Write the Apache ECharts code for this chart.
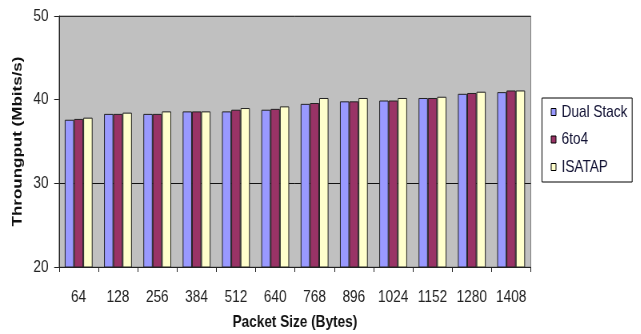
<!DOCTYPE html>
<html>
<head>
<meta charset="utf-8">
<style>
  html, body { margin: 0; padding: 0; background: #fff; overflow: hidden; }
  #frame { width: 641px; height: 334px; overflow: hidden; }
  /* the chart is laid out 25% wider and squeezed back to 641px, giving the condensed lettering */
  #chart { width: 801.25px; height: 334px; transform: scaleX(0.8); transform-origin: 0 0; }
</style>
<script src="https://cdn.jsdelivr.net/npm/echarts@6/dist/echarts.min.js"></script>
</head>
<body>
<div id="frame"><div id="chart"></div></div>
<script>
// Packet sizes (bytes)
const packetSizes = ['64', '128', '256', '384', '512', '640', '768', '896', '1024', '1152', '1280', '1408'];

// Throughput (Mbits/s) per transition mechanism
const dualStack = [37.6, 38.3, 38.3, 38.6, 38.6, 38.8, 39.5, 39.8, 39.9, 40.2, 40.7, 40.9];
const sixToFour = [37.7, 38.3, 38.3, 38.6, 38.8, 38.9, 39.6, 39.8, 39.9, 40.2, 40.8, 41.1];
const isatap    = [37.85, 38.45, 38.6, 38.6, 39.0, 39.2, 40.2, 40.2, 40.2, 40.35, 40.95, 41.1];

const seriesNames = ['Dual Stack', '6to4', 'ISATAP'];
const seriesColors = ['#9999FF', '#993366', '#FFFFCC'];
const seriesData = [dualStack, sixToFour, isatap];

const chart = echarts.init(document.getElementById('chart'), null, { renderer: 'canvas' });

const font = "'Liberation Sans', Arial, sans-serif";

chart.setOption({
  animation: false,
  backgroundColor: '#ffffff',
  textStyle: { fontFamily: font },
  grid: {
    left: 73.75, right: 137.5, top: 16, bottom: 67,
    containLabel: false,
    outerBoundsMode: 'none',
    show: true,
    backgroundColor: '#C0C0C0',
    borderColor: '#808080',
    borderWidth: 1
  },
  legend: {
    orient: 'vertical',
    left: 677.5, top: 98,
    padding: [5.5, 6, 6.5, 11],
    itemGap: 10.5,
    itemWidth: 6, itemHeight: 7,
    borderColor: '#000', borderWidth: 1,
    backgroundColor: '#fff',
    icon: 'rect',
    textStyle: { fontSize: 17, lineHeight: 17, color: '#111133', fontFamily: font, padding: [0, 0, 0, 2] },
    itemStyle: { borderColor: '#000', borderWidth: 1 },
    data: seriesNames
  },
  xAxis: {
    type: 'category',
    data: packetSizes,
    name: 'Packet Size (Bytes)',
    nameLocation: 'middle',
    nameGap: 47,
    nameTextStyle: { fontSize: 17, fontWeight: 'bold', color: '#111', fontFamily: font },
    axisLine: { show: true, lineStyle: { color: '#222', width: 1 } },
    axisTick: { show: true, alignWithLabel: false, length: 5, lineStyle: { color: '#222' } },
    axisLabel: { fontSize: 17, color: '#222', margin: 22, interval: 0, fontFamily: font },
    splitLine: { show: false }
  },
  yAxis: {
    type: 'value',
    min: 20, max: 50, interval: 10,
    name: 'Throungput (Mbits/s)',
    nameLocation: 'middle',
    nameGap: 29,
    nameTextStyle: { fontSize: 17, fontWeight: 'bold', color: '#111', fontFamily: font },
    axisLine: { show: true, lineStyle: { color: '#222', width: 1 } },
    axisTick: { show: true, inside: false, length: 6, lineStyle: { color: '#222' } },
    axisLabel: { fontSize: 17, color: '#222', margin: 13, fontFamily: font },
    splitLine: {
      show: true,
      lineStyle: { color: ['rgba(0,0,0,0)', '#111', 'rgba(0,0,0,0)', '#333'], width: 1 }
    }
  },
  series: seriesData.map((values, i) => ({
    name: seriesNames[i],
    type: 'bar',
    data: values,
    barWidth: 11.6,
    barGap: '0%',
    itemStyle: { color: seriesColors[i], borderColor: '#222', borderWidth: 1 }
  }))
});
</script>
</body>
</html>
